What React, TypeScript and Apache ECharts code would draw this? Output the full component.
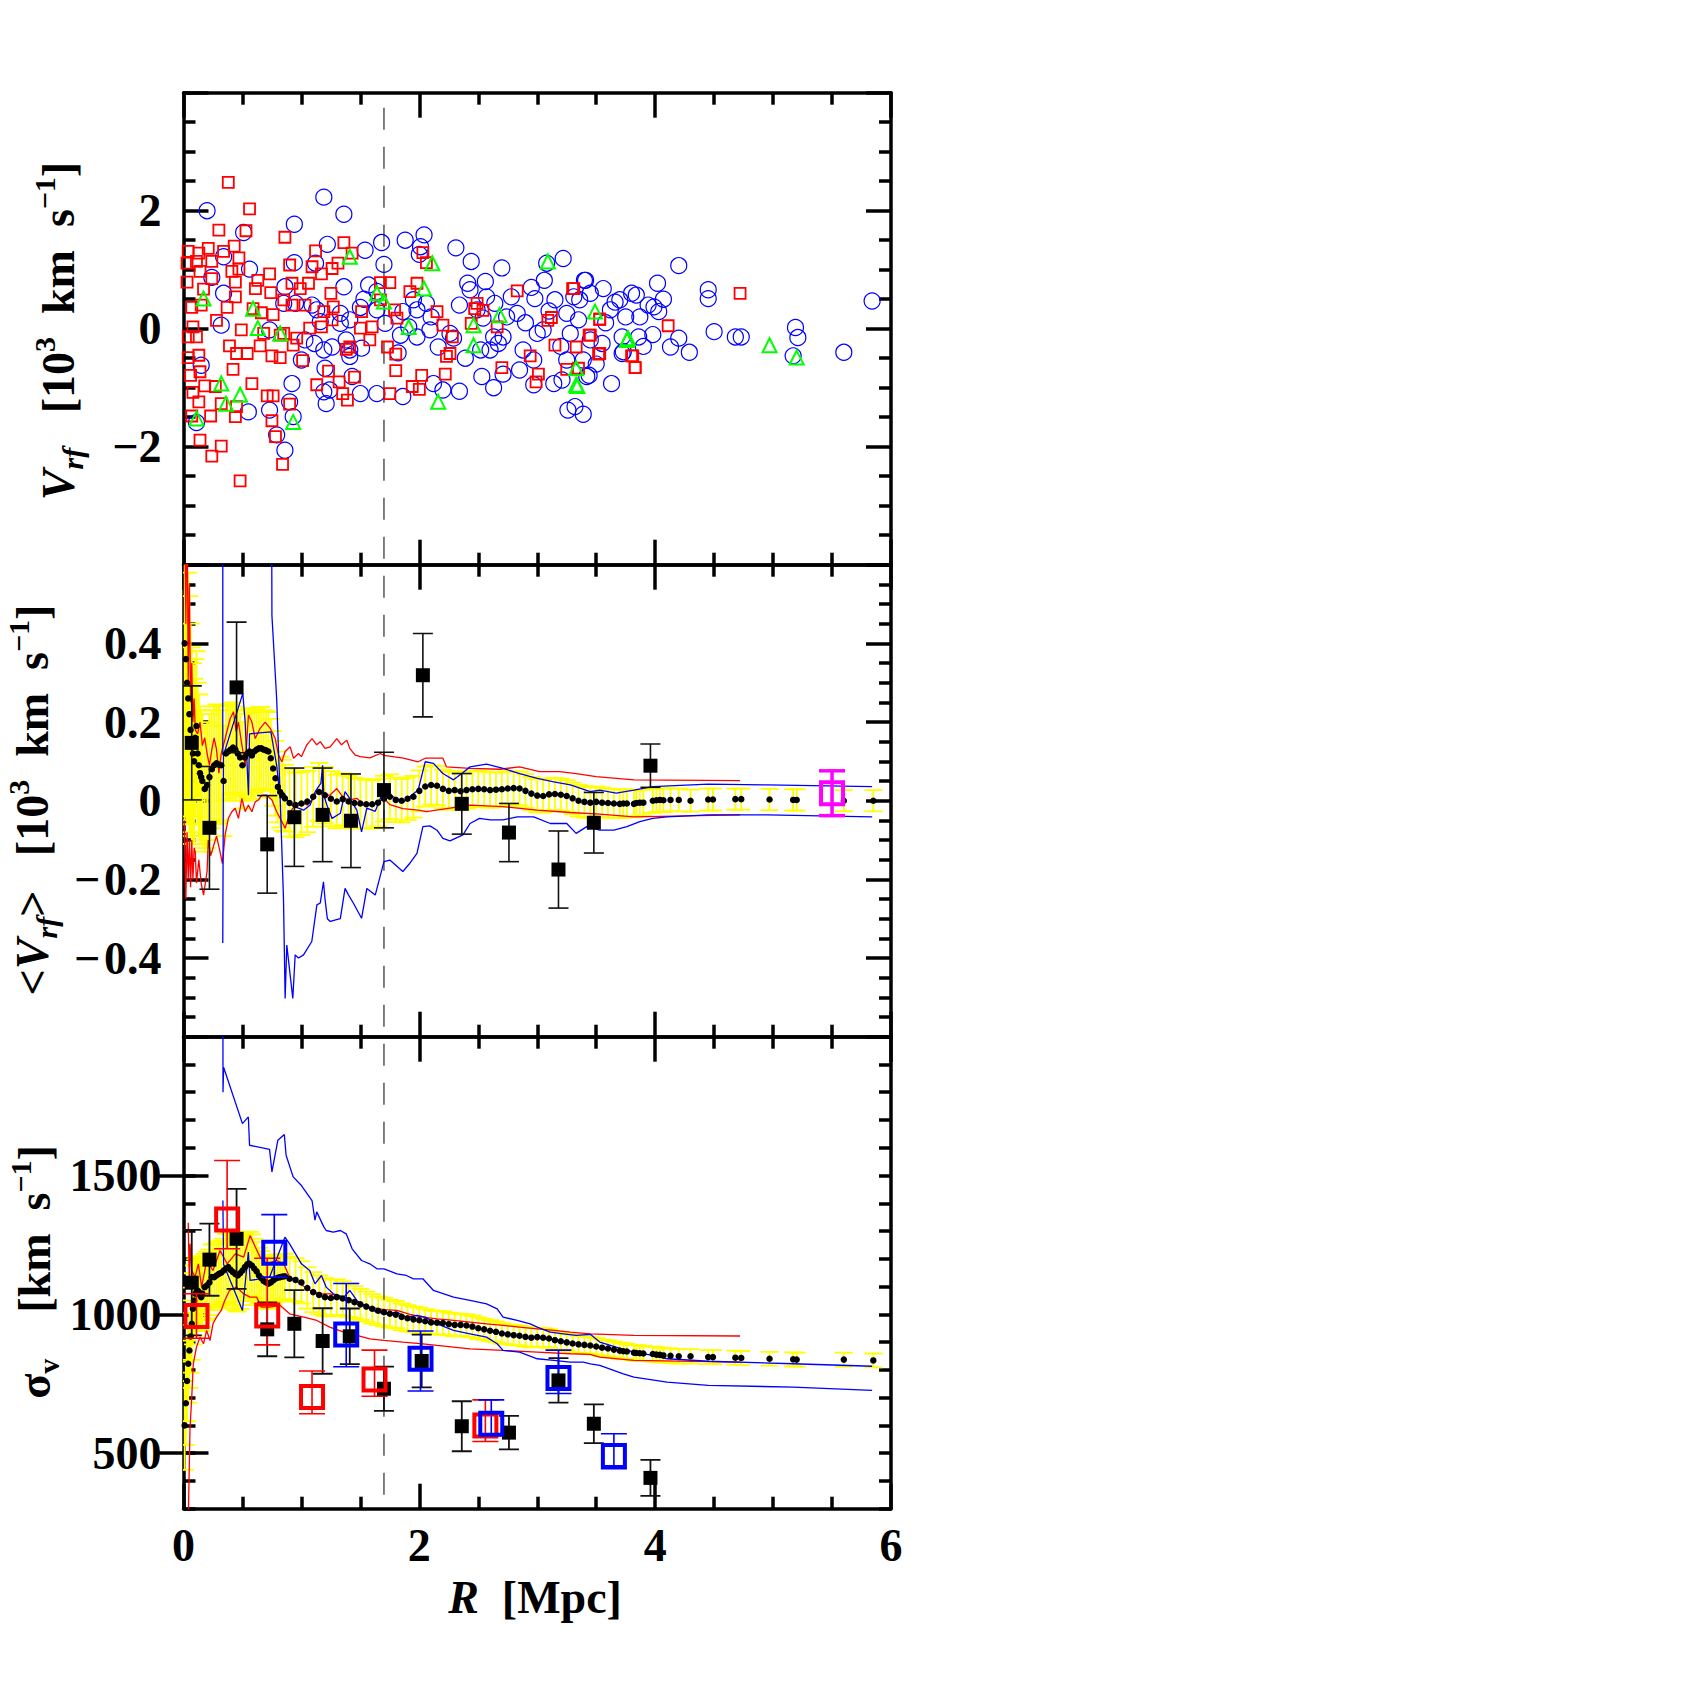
import React, { useEffect, useRef } from 'react';
import * as echarts from 'echarts';

// ---------------- TOP PANEL: individual galaxies (R [Mpc], V_rf [10^3 km/s]) ----------------
const blueCircles: number[][] = [
  [0.20,2.00],[1.19,2.23],[1.36,1.94],[0.94,1.77],[0.51,1.63],[1.22,1.43],[1.54,1.33],[1.68,1.46],[1.88,1.50],[2.04,1.59],
  [2.01,1.39],[2.00,1.26],[2.31,1.37],[2.44,1.14],[2.70,1.03],[3.06,0.82],[3.08,1.11],[3.22,1.19],[1.70,1.09],[0.94,1.12],
  [0.56,1.01],[1.12,1.11],[0.24,0.87],[0.34,1.22],[0.34,0.60],[0.86,0.71],[1.36,0.71],[1.57,0.74],[1.64,0.63],[1.53,0.50],
  [1.50,0.36],[1.09,0.40],[1.13,0.32],[1.16,0.12],[1.33,0.26],[1.41,0.15],[1.71,0.09],[1.86,0.29],[1.95,0.49],[1.98,0.32],
  [2.06,0.43],[2.10,0.20],[1.84,-0.11],[1.98,-0.14],[2.09,-0.02],[2.16,-0.31],[2.26,-0.08],[2.29,-0.16],[2.34,0.40],[2.41,0.77],
  [2.43,0.66],[2.56,0.80],[2.57,0.54],[2.64,0.43],[2.49,0.32],[2.54,0.18],[2.63,-0.14],[2.67,-0.25],[2.71,-0.14],[2.60,-0.36],
  [2.52,-0.36],[2.39,-0.50],[2.53,-0.81],[2.63,-1.00],[2.71,-0.77],[2.78,0.54],[2.74,0.20],[2.83,0.26],[2.88,-0.36],[2.97,-0.53],
  [3.00,-0.08],[3.05,-0.02],[2.98,0.51],[3.15,0.49],[3.25,0.26],[3.28,-0.08],[3.25,-0.53],[3.39,-0.53],[3.42,-0.81],[3.45,-0.19],
  [3.36,0.49],[3.40,0.82],[3.31,0.54],[3.45,0.60],[3.56,0.68],[2.97,-0.95],[3.14,-0.93],[3.21,-0.87],[3.26,-1.38],[3.32,-1.32],
  [3.39,-1.45],[3.63,-0.93],[3.55,-0.25],[3.62,0.32],[3.70,0.49],[3.75,0.20],[3.72,-0.14],[3.73,-0.39],[3.84,0.57],[3.87,0.20],
  [3.86,-0.14],[3.94,0.40],[0.32,0.06],[0.15,-0.62],[0.11,-1.59],[0.55,-1.41],[0.73,-1.38],[0.79,-1.80],[0.86,-2.06],[0.92,-0.93],
  [0.93,-1.49],[0.90,-1.24],[1.00,-0.53],[1.03,-0.19],[1.11,-0.25],[1.19,-0.36],[1.20,-0.67],[1.21,-1.27],[1.24,-1.04],[1.19,-1.07],
  [1.41,-0.36],[1.41,-0.47],[1.51,-0.33],[1.43,-0.81],[1.50,-1.10],[1.64,-1.10],[1.86,-1.15],[2.12,-0.93],[2.20,-1.04],[2.34,-1.06],
  [1.82,-0.41],[1.91,0.03],[1.64,0.32],[1.38,-0.19],[1.33,0.09],[0.73,-0.02],[0.85,0.43],[0.95,0.43],[1.26,-0.31],[4.20,1.07],
  [4.02,0.77],[4.07,0.50],[4.03,0.29],[3.99,0.37],[4.20,-0.16],[4.13,-0.31],[4.29,-0.40],[4.45,0.66],[4.45,0.51],[4.50,-0.05],
  [4.68,-0.14],[4.73,-0.14],[5.19,0.02],[5.21,-0.15],[5.17,-0.46],[5.60,-0.40],[5.84,0.47],[3.41,0.82],[3.72,-0.42],[3.44,-0.79],
  [3.80,0.60],[3.66,0.45],[3.98,-0.10],[3.90,-0.30],[3.58,0.10],[3.50,-0.60],[2.90,0.10],[2.85,-0.70],[2.95,0.70],[3.10,0.30],
  [3.20,-0.30],[3.35,0.15],
];

const redSquares: number[][] = [
  [0.38,2.48],[0.56,2.03],[0.30,1.67],[0.53,1.66],[0.86,1.55],[0.43,1.40],[0.21,1.36],[0.04,1.31],[0.13,1.28],[0.34,1.31],
  [0.47,1.20],[0.11,1.14],[0.24,1.14],[0.03,1.11],[0.14,0.97],[0.41,0.97],[0.47,1.01],[0.24,0.85],[0.44,0.79],[0.03,0.79],
  [0.17,0.67],[0.44,0.54],[0.07,0.36],[0.15,0.40],[0.37,0.36],[0.59,0.34],[0.66,0.27],[0.76,0.24],[0.28,0.14],[0.49,-0.02],
  [0.08,0.03],[0.11,-0.14],[0.04,-0.14],[0.39,-0.29],[0.45,-0.42],[0.54,-0.42],[0.65,-0.29],[0.75,-0.46],[0.82,-0.49],[0.13,-0.45],
  [0.04,-0.49],[0.06,-0.79],[0.14,-0.73],[0.42,-0.69],[0.58,-0.93],[0.27,-0.98],[0.18,-0.97],[0.08,-1.08],[0.71,-1.14],[0.76,-1.14],
  [0.13,-1.24],[0.32,-1.27],[0.45,-1.32],[0.07,-1.48],[0.23,-1.48],[0.44,-1.49],[0.75,-1.56],[0.78,-1.83],[0.14,-1.89],[0.32,-1.99],
  [0.24,-2.16],[0.84,-2.30],[0.48,-2.58],[0.90,-1.28],[0.85,-0.08],[0.85,0.49],[0.90,1.08],[0.92,0.77],[0.99,0.68],[1.06,0.77],
  [0.92,0.40],[1.03,0.40],[1.07,0.01],[0.93,-0.28],[0.96,-0.16],[1.01,-0.54],[1.12,1.32],[1.09,1.05],[1.17,0.93],[1.26,1.02],
  [1.31,1.11],[1.36,1.46],[1.43,1.28],[1.25,0.60],[1.27,0.37],[1.19,0.29],[1.26,0.15],[1.17,0.03],[1.23,-0.72],[1.13,-0.95],
  [1.32,-0.90],[1.35,-1.10],[1.39,-1.21],[1.45,-0.82],[1.41,-0.31],[1.50,0.01],[1.51,0.29],[1.58,-0.19],[1.67,0.78],[1.75,0.78],
  [1.67,0.49],[1.73,-0.31],[1.79,0.32],[1.81,0.18],[1.80,-0.43],[1.80,-0.71],[1.75,-1.10],[1.94,-0.98],[2.00,-1.03],[2.02,-0.79],
  [1.92,0.63],[1.98,0.77],[2.03,1.29],[2.06,1.12],[2.15,0.29],[2.20,0.06],[2.22,-0.77],[2.23,-0.47],[2.26,-0.42],[2.28,-0.14],
  [2.44,0.09],[2.47,0.34],[2.66,0.03],[2.70,-0.66],[2.83,0.64],[2.94,-0.46],[3.01,-0.77],[2.99,-0.90],[3.12,0.19],[3.09,0.14],
  [3.15,-0.28],[3.31,0.68],[3.33,-0.31],[3.25,-0.69],[3.35,-0.67],[3.45,-0.11],[3.53,0.16],[3.52,-0.43],[3.83,-0.66],[3.80,-0.46],
  [2.54,0.31],[2.49,0.43],[1.60,0.03],[1.38,-0.35],[0.74,0.61],[0.63,0.82],[0.73,0.93],[0.61,0.68],[0.68,-0.08],[0.82,-0.11],
  [4.72,0.60],[4.11,0.05],[3.81,-0.46],[3.83,-0.66],[3.53,0.16],[3.53,-0.42],[3.44,-0.11],[3.30,0.68],
];

const greenTriangles: number[][] = [
  [1.41,1.22],[2.11,1.11],[2.04,0.68],[1.64,0.60],[1.70,0.46],[0.59,0.34],[0.63,0.01],[0.82,-0.08],[0.17,0.51],[0.32,-0.93],
  [0.48,-1.12],[0.36,-1.27],[0.11,-1.52],[0.93,-1.58],[1.91,0.03],[2.46,0.06],[2.46,-0.28],[2.16,-1.24],[2.68,0.23],[3.09,1.14],
  [3.49,0.29],[3.33,-0.95],[3.33,-0.67],[3.77,-0.16],[4.97,-0.28],[5.20,-0.49],[3.76,-0.19],[3.34,-0.97],
];

// ---------------- RUNNING STATISTICS (shared radii) ----------------
const runR: number[] = [
  0.01,0.02,0.03,0.04,0.05,0.06,0.07,0.08,0.09,0.10,0.11,0.12,0.13,0.14,0.15,0.16,0.18,0.20,0.22,0.24,0.26,0.28,0.30,0.32,0.34,
  0.36,0.38,0.40,0.42,0.44,0.46,0.48,0.50,0.52,0.54,0.56,0.58,0.60,0.62,0.64,0.66,0.68,0.70,0.72,0.74,0.76,0.78,0.80,0.82,0.84,0.86,
  0.90,0.95,1.00,1.05,1.10,1.15,1.20,1.25,1.30,1.35,1.40,1.45,1.50,1.55,1.60,1.65,1.70,1.75,1.80,1.85,1.90,1.95,2.00,2.05,2.10,2.15,
  2.20,2.25,2.30,2.35,2.40,2.45,2.50,2.55,2.60,2.65,2.70,2.75,2.80,2.85,2.90,2.95,3.00,3.05,3.10,3.15,3.20,3.25,3.30,3.35,3.40,3.45,3.50,
  3.55,3.60,3.65,3.70,3.73,3.76,3.82,3.84,3.87,3.90,3.98,4.01,4.04,4.07,4.13,4.20,4.30,4.45,4.49,4.68,4.73,4.97,5.17,5.20,5.60,5.85,
];
const runMeanV: number[] = [
  0.40,0.36,0.30,0.26,0.22,0.18,0.14,0.12,0.10,0.16,0.19,0.12,0.09,0.07,0.06,0.05,0.03,0.04,0.06,0.08,0.09,0.095,0.092,0.09,0.05,
  0.12,0.125,0.13,0.135,0.13,0.12,0.11,0.09,0.11,0.12,0.125,0.115,0.125,0.13,0.133,0.133,0.13,0.128,0.125,0.108,0.082,0.057,0.035,0.022,0.014,0.006,
  -0.006,-0.011,-0.007,-0.002,0.010,0.022,0.014,0.005,-0.002,0.004,-0.002,-0.006,-0.007,-0.009,-0.009,-0.005,0.005,0.010,0.002,0.000,0.005,0.010,0.025,0.036,0.040,0.038,
  0.030,0.025,0.027,0.024,0.027,0.029,0.030,0.029,0.027,0.028,0.029,0.031,0.032,0.031,0.025,0.018,0.013,0.012,0.016,0.017,0.015,0.012,0.006,0.000,-0.003,-0.005,-0.003,
  -0.005,-0.006,-0.007,-0.008,-0.007,-0.007,-0.008,-0.006,-0.005,-0.005,0.000,0.001,0.002,0.001,0.002,0.002,0.000,0.003,0.003,0.004,0.004,0.003,0.002,0.002,0.000,0.000,
];
const runMeanErr: number[] = [
  0.45,0.40,0.36,0.32,0.30,0.27,0.25,0.23,0.21,0.20,0.19,0.18,0.18,0.17,0.17,0.17,0.16,0.16,0.16,0.15,0.15,0.15,0.15,0.14,0.14,
  0.12,0.12,0.115,0.115,0.11,0.11,0.11,0.11,0.11,0.11,0.11,0.11,0.105,0.105,0.105,0.105,0.10,0.10,0.10,0.10,0.095,0.095,0.09,0.09,0.09,0.085,
  0.085,0.082,0.080,0.078,0.076,0.074,0.072,0.070,0.068,0.066,0.065,0.064,0.063,0.062,0.061,0.060,0.058,0.057,0.056,0.055,0.054,0.053,0.052,0.051,0.050,0.050,
  0.049,0.048,0.048,0.047,0.047,0.046,0.046,0.045,0.045,0.044,0.044,0.044,0.043,0.043,0.043,0.042,0.042,0.042,0.041,0.041,0.041,0.040,0.040,0.040,0.040,0.039,0.039,
  0.038,0.037,0.037,0.036,0.036,0.035,0.034,0.034,0.033,0.033,0.031,0.030,0.030,0.030,0.029,0.029,0.028,0.028,0.028,0.027,0.027,0.027,0.027,0.027,0.027,0.027,
];
const runSigma: number[] = [
  600,680,760,822,870,920,966,1020,1050,1074,1080,1086,1080,1070,1062,1075,1098,1105,1115,1134,1134,1140,1146,1150,1158,
  1165,1170,1160,1152,1145,1140,1148,1158,1170,1180,1182,1176,1165,1155,1140,1130,1120,1115,1110,1115,1122,1128,1132,1134,1136,1137,
  1128,1124,1115,1095,1080,1070,1062,1059,1062,1057,1051,1044,1036,1028,1020,1013,1008,1002,999,991,986,982,979,975,971,970,
  969,965,962,962,960,956,950,946,941,937,931,928,925,923,919,916,918,916,913,907,903,899,895,892,890,888,884,
  880,877,873,869,867,866,862,861,860,859,857,855,854,852,851,849,849,846,846,844,843,840,838,837,837,834,
];
const runSigmaErr: number[] = [
  160,150,145,140,135,130,130,128,126,125,125,124,124,122,122,120,120,120,118,118,118,116,116,115,115,
  125,125,128,130,130,130,128,125,122,118,115,112,108,105,100,98,95,92,90,88,86,85,84,83,82,82,
  80,78,76,74,72,70,68,66,64,62,60,58,56,54,53,52,51,50,49,48,47,46,45,44,43,42,
  42,41,41,40,40,39,39,38,38,37,37,36,36,36,35,35,34,34,34,33,33,32,32,31,31,30,30,
  30,29,29,29,28,28,28,28,27,27,27,27,26,26,26,26,26,25,25,25,25,25,25,25,25,25,
];

// ---------------- MIDDLE PANEL curves & binned points ----------------
const midRedUp: number[][] = [
  [0.005,0.9],[0.02,0.45],[0.03,0.8],[0.04,0.3],[0.05,0.55],[0.06,0.25],[0.07,0.35],[0.08,0.2],[0.09,0.26],[0.10,0.18],
  [0.12,0.17],[0.14,0.2],[0.16,0.14],[0.18,0.16],[0.20,0.12],[0.22,0.09],[0.24,0.13],[0.26,0.16],[0.28,0.13],[0.30,0.07],
  [0.32,0.12],[0.353,0.158],[0.396,0.209],[0.424,0.226],[0.447,0.175],[0.466,0.2],[0.495,0.142],[0.523,0.09],[0.551,0.218],[0.58,0.2],
  [0.608,0.158],[0.65,0.184],[0.693,0.2],[0.735,0.184],[0.778,0.158],[0.806,0.116],[0.834,0.099],[0.862,0.125],[0.905,0.137],[0.933,0.108],
  [0.975,0.12],[1.0,0.112],[1.046,0.142],[1.09,0.158],[1.13,0.142],[1.16,0.15],[1.2,0.133],[1.244,0.137],[1.3,0.158],[1.34,0.142],
  [1.385,0.154],[1.41,0.133],[1.456,0.116],[1.5,0.112],[1.58,0.109],[1.67,0.12],[1.70,0.115],[1.865,0.108],[1.99,0.099],[2.05,0.108],
  [2.20,0.108],[2.23,0.086],[2.43,0.082],[2.684,0.08],[2.85,0.086],[3.02,0.074],[3.19,0.074],[3.33,0.069],[3.50,0.061],[3.82,0.053],[4.72,0.051],
];
const midRedLo: number[][] = [
  [0.005,-0.05],[0.02,-0.25],[0.03,-0.08],[0.04,-0.2],[0.05,-0.1],[0.06,-0.22],[0.07,-0.1],[0.08,-0.2],[0.09,-0.12],[0.10,-0.13],
  [0.11,-0.21],[0.13,-0.15],[0.15,-0.21],[0.17,-0.24],[0.20,-0.18],[0.21,-0.10],[0.23,-0.14],[0.25,-0.12],[0.28,-0.09],[0.31,-0.13],
  [0.33,-0.16],[0.353,-0.087],[0.38,-0.045],[0.41,-0.028],[0.438,-0.019],[0.466,-0.045],[0.495,0.006],[0.523,-0.028],[0.55,-0.011],[0.58,-0.028],
  [0.608,-0.003],[0.636,0.002],[0.664,0.014],[0.707,0.014],[0.75,0.002],[0.79,-0.028],[0.834,-0.053],[0.862,-0.07],[0.905,-0.028],[0.95,-0.011],
  [0.99,-0.003],[1.05,-0.011],[1.10,0.006],[1.13,0.023],[1.19,0.014],[1.24,0.014],[1.30,0.031],[1.36,0.006],[1.41,0.002],[1.47,0.006],
  [1.53,-0.011],[1.61,-0.011],[1.70,0.006],[1.75,-0.01],[1.86,-0.02],[1.99,-0.024],[2.06,-0.028],[2.43,-0.011],[2.71,-0.015],[3.0,-0.024],
  [3.28,-0.03],[3.53,-0.034],[3.82,-0.041],[4.72,-0.036],
];
const midBlueUp: number[][] = [
  [0.333,0.116],[0.334,1.5],[0.74,1.5],[0.75,0.47],[0.79,0.26],[0.82,0.006],[0.85,0.014],[0.905,-0.007],[0.933,-0.015],[0.975,-0.019],
  [1.018,-0.024],[1.074,-0.011],[1.117,0.023],[1.145,0.036],[1.165,0.044],[1.18,0.09],[1.19,0.014],[1.216,-0.011],[1.26,-0.045],[1.33,-0.032],
  [1.37,0.023],[1.41,0.006],[1.47,-0.024],[1.51,-0.079],[1.555,-0.019],[1.626,-0.027],[1.67,0.006],[1.70,0.04],[1.72,0.019],[1.865,-0.003],
  [1.99,0.027],[2.05,0.099],[2.12,0.095],[2.20,0.069],[2.29,0.053],[2.36,0.069],[2.43,0.086],[2.57,0.093],[2.71,0.082],[2.85,0.069],
  [3.00,0.057],[3.14,0.048],[3.28,0.040],[3.45,0.023],[3.53,0.027],[3.67,0.019],[3.82,0.027],[3.98,0.036],[4.45,0.042],[4.95,0.040],[5.84,0.036],
];
const midBlueLo: number[][] = [
  [0.333,-0.362],[0.339,0.116],[0.503,0.273],[0.523,0.2],[0.551,0.014],[0.56,0.17],[0.741,0.175],[0.79,0.09],[0.82,0.006],[0.848,-0.25],
  [0.862,-0.503],[0.876,-0.367],[0.927,-0.503],[0.947,-0.392],[0.975,-0.4],[1.018,-0.392],[1.088,-0.358],[1.131,-0.265],[1.16,-0.26],[1.187,-0.206],
  [1.2,-0.25],[1.22,-0.3],[1.244,-0.307],[1.33,-0.3],[1.37,-0.223],[1.4,-0.24],[1.44,-0.26],[1.51,-0.299],[1.555,-0.223],[1.626,-0.24],
  [1.70,-0.155],[1.75,-0.151],[1.86,-0.18],[1.92,-0.159],[1.98,-0.134],[2.03,-0.066],[2.09,-0.064],[2.15,-0.075],[2.20,-0.096],[2.26,-0.102],
  [2.37,-0.087],[2.43,-0.058],[2.51,-0.045],[2.60,-0.049],[2.71,-0.049],[2.83,-0.041],[2.97,-0.041],[3.11,-0.058],[3.25,-0.058],[3.33,-0.083],
  [3.42,-0.066],[3.53,-0.075],[3.65,-0.075],[3.76,-0.066],[3.87,-0.053],[3.98,-0.045],[4.10,-0.041],[4.45,-0.036],[4.95,-0.036],[5.84,-0.041],
];
// binned means: [R, <V>, error]
const midBins: number[][] = [
  [0.07,0.147,0.145],[0.22,-0.069,0.156],[0.45,0.288,0.166],[0.71,-0.111,0.124],[0.94,-0.042,0.125],[1.18,-0.036,0.119],[1.42,-0.051,0.119],
  [1.70,0.027,0.096],[2.03,0.319,0.106],[2.36,-0.008,0.077],[2.76,-0.081,0.074],[3.18,-0.175,0.098],[3.48,-0.056,0.077],[3.96,0.089,0.055],
];
const midMagenta: number[][] = [[5.50,0.019,0.057]];

// ---------------- BOTTOM PANEL curves & binned points ----------------
const botRedUp: number[][] = [
  [0.04,1330],[0.05,1100],[0.055,1254],[0.07,1158],[0.098,1134],[0.126,1182],[0.154,1098],[0.196,1194],[0.25,1158],[0.31,1230],
  [0.37,1182],[0.44,1218],[0.51,1206],[0.565,1284],[0.61,1242],[0.65,1206],[0.705,1182],[0.79,1194],[0.85,1182],[0.90,1134],
  [0.99,1110],[1.07,1086],[1.16,1074],[1.24,1074],[1.36,1062],[1.47,1044],[1.58,1026],[1.70,1017],[1.81,1014],[1.92,1000],
  [2.03,990],[2.15,984],[2.29,978],[2.43,972],[2.57,966],[2.71,960],[2.85,954],[3.00,948],[3.14,942],[3.28,936],[3.45,930],[3.82,924],[4.72,922],
];
const botRedLo: number[][] = [
  [0.04,250],[0.055,586],[0.07,702],[0.083,822],[0.11,882],[0.14,918],[0.17,894],[0.196,942],[0.225,906],[0.25,966],
  [0.28,990],[0.32,1014],[0.35,1050],[0.39,1086],[0.45,1098],[0.51,1074],[0.565,1062],[0.62,1062],[0.66,1026],[0.73,1026],
  [0.82,1032],[0.90,1002],[1.02,990],[1.13,978],[1.24,954],[1.36,936],[1.47,924],[1.58,912],[1.70,906],[1.86,900],
  [2.03,894],[2.15,888],[2.29,882],[2.43,876],[2.57,873],[2.71,870],[3.00,864],[3.28,858],[3.45,856],[3.53,846],[3.82,834],[4.72,828],
];
const botBlueUp: number[][] = [
  [0.334,2100],[0.335,1800],[0.34,1890],[0.50,1687],[0.55,1711],[0.56,1609],[0.73,1594],[0.75,1513],[0.80,1627],[0.855,1648],
  [0.87,1573],[0.93,1495],[1.00,1464],[1.09,1410],[1.115,1339],[1.13,1369],[1.19,1315],[1.21,1302],[1.27,1296],[1.33,1302],
  [1.38,1290],[1.43,1236],[1.51,1194],[1.58,1182],[1.64,1164],[1.70,1164],[1.81,1146],[1.89,1140],[1.95,1128],[2.03,1128],
  [2.12,1086],[2.29,1062],[2.43,1050],[2.57,1038],[2.66,1020],[2.71,990],[2.83,978],[2.94,966],[3.00,954],[3.11,936],
  [3.22,930],[3.33,924],[3.45,928],[3.53,900],[3.67,882],[3.82,864],[3.98,852],[4.10,840],[4.45,831],[5.17,822],[5.84,813],
];
const botBlueLo: number[][] = [
  [0.334,1410],[0.34,1180],[0.50,1014],[0.55,1224],[0.565,1122],[0.73,1134],[0.86,1278],[0.90,1254],[1.00,1182],[1.07,1158],
  [1.115,1110],[1.17,1140],[1.21,1098],[1.27,1074],[1.36,1062],[1.41,1086],[1.47,1050],[1.55,1026],[1.64,1008],[1.72,1002],
  [1.81,1008],[1.89,990],[1.98,996],[2.05,990],[2.15,966],[2.29,942],[2.43,930],[2.57,918],[2.66,894],[2.71,870],
  [2.85,864],[3.00,840],[3.14,834],[3.28,828],[3.39,828],[3.45,822],[3.53,816],[3.73,786],[3.82,774],[4.10,756],
  [4.45,744],[5.17,738],[5.84,726],
];
// [R, sigma, err]
const botBlackBins: number[][] = [
  [0.07,1114,190],[0.22,1197,130],[0.45,1272,180],[0.71,946,97],[0.94,966,121],[1.18,904,118],[1.41,921,100],
  [1.70,732,80],[2.02,832,95],[2.36,597,90],[2.76,574,60],[3.18,762,80],[3.48,606,70],[3.96,411,65],
];
// [R, sigma, errLow, errHigh]
const botRedBins: number[][] = [
  [0.11,994,80,80],[0.37,1342,106,212],[0.71,996,106,206],[1.09,702,60,94],[1.62,765,60,106],[2.56,600,58,92],
];
const botBlueBins: number[][] = [
  [0.77,1222,88,137],[1.38,927,116,184],[2.01,840,116,100],[2.61,606,42,86],[3.18,771,56,100],[3.65,490,46,80],
];

// ---------------- tick labels ----------------
const xTickLabels = ['0', '2', '4', '6'];
const topTickLabels = ['−2', '0', '2'];
const botTickLabels = ['500', '1000', '1500'];

const F = 'Liberation Serif';
const GL = 183.5, GW = 707.5, GH = 472;
const TOPS = [92.7, 564.7, 1036.7];

const errRender = (color: string, lw: number, cap: number) => (params: any, api: any) => {
  const x = api.value(0), y = api.value(1), lo = api.value(2), hi = api.value(3);
  const a = api.coord([x, y - lo]);
  const b = api.coord([x, y + hi]);
  const st = { stroke: color, lineWidth: lw, fill: 'none' };
  return {
    type: 'group',
    children: [
      { type: 'line', shape: { x1: a[0], y1: a[1], x2: b[0], y2: b[1] }, style: st },
      { type: 'line', shape: { x1: a[0] - cap / 2, y1: a[1], x2: a[0] + cap / 2, y2: a[1] }, style: st },
      { type: 'line', shape: { x1: b[0] - cap / 2, y1: b[1], x2: b[0] + cap / 2, y2: b[1] }, style: st },
    ],
  };
};

const lineStyleAx = { color: '#000', width: 3.5 };
const labelFont = { fontFamily: F, fontWeight: 'bold' as const, fontSize: 46, color: '#000' };

function makeX(g: number, pos: 'bottom' | 'top') {
  const showLab = g === 2 && pos === 'bottom';
  return {
    type: 'value', gridIndex: g, position: pos, min: 0, max: 6, interval: 2,
    splitLine: { show: false },
    axisLine: { show: true, onZero: false, lineStyle: lineStyleAx },
    axisTick: { show: true, inside: true, length: 25, lineStyle: lineStyleAx },
    minorTick: { show: true, splitNumber: 4, length: 12, lineStyle: lineStyleAx },
    axisLabel: showLab
      ? { show: true, margin: 14, ...labelFont, formatter: (v: number) => xTickLabels[Math.round(v / 2)] ?? '' }
      : { show: false },
  };
}

function makeY(g: number, pos: 'left' | 'right', min: number, max: number, interval: number, split: number, fmt: ((v: number) => string) | null) {
  return {
    type: 'value', gridIndex: g, position: pos, min, max, interval,
    splitLine: { show: false },
    axisLine: { show: true, onZero: false, lineStyle: lineStyleAx },
    axisTick: { show: true, inside: true, length: split > 1 ? 25 : 12, lineStyle: lineStyleAx },
    minorTick: { show: split > 1, splitNumber: split, length: 12, lineStyle: lineStyleAx },
    axisLabel: fmt ? { show: true, margin: 22, ...labelFont, formatter: fmt } : { show: false },
  };
}

const topFmt = (v: number) => {
  const r = Math.round(v);
  return r === -2 ? topTickLabels[0] : r === 0 ? topTickLabels[1] : r === 2 ? topTickLabels[2] : '';
};
const midFmt = (v: number) => {
  if (Math.abs(v) > 0.55) return '';
  if (Math.abs(v) < 1e-9) return '0';
  const s = Math.abs(v).toFixed(1);
  return v < 0 ? '−\u200A' + s : s;
};
const botFmt = (v: number) => {
  const r = Math.round(v);
  const idx = [500, 1000, 1500].indexOf(r);
  return idx >= 0 ? botTickLabels[idx] : '';
};

function curve(data: number[][], color: string, xi: number, yi: number) {
  return {
    type: 'line', xAxisIndex: xi, yAxisIndex: yi, data, symbol: 'none', showSymbol: false, silent: true, clip: true,
    lineStyle: { color, width: 1.3 }, z: 3,
  };
}
function dashed(xi: number, yi: number, y0: number, y1: number, off: number) {
  return {
    type: 'line', xAxisIndex: xi, yAxisIndex: yi, data: [[1.7, y0], [1.7, y1]], symbol: 'none', silent: true,
    lineStyle: { color: '#555', width: 1.5, type: [22, 17], dashOffset: off }, z: 2,
  };
}
function errSeries(data: number[][], color: string, lw: number, cap: number, xi: number, yi: number, z: number) {
  return {
    type: 'custom', xAxisIndex: xi, yAxisIndex: yi, data, clip: true, silent: true,
    encode: { x: 0, y: 1 }, renderItem: errRender(color, lw, cap), z,
  };
}
function scatter(data: number[][], symbol: string, size: number, fill: string, border: string, bw: number, xi: number, yi: number, z: number) {
  return {
    type: 'scatter', xAxisIndex: xi, yAxisIndex: yi, data: data.map((d) => [d[0], d[1]]), symbol, symbolSize: size, silent: true, clip: true,
    itemStyle: { color: fill, borderColor: border, borderWidth: bw, opacity: 1 }, z,
  };
}

const T = 'rgba(0,0,0,0)';

export default function App() {
  const ref = useRef<HTMLDivElement>(null);
  useEffect(() => {
    const chart = echarts.init(ref.current!, null, { renderer: 'svg', width: 1689, height: 1689 });

    const yellowMid = runR.map((r, i) => [r, runMeanV[i], runMeanErr[i], runMeanErr[i]]);
    const yellowBot = runR.map((r, i) => [r, runSigma[i], runSigmaErr[i], runSigmaErr[i]]);
    const meanPts = runR.map((r, i) => [r, runMeanV[i]]);
    const sigPts = runR.map((r, i) => [r, runSigma[i]]);
    const midBinErr = midBins.map((d) => [d[0], d[1], d[2], d[2]]);
    const magErr = midMagenta.map((d) => [d[0], d[1], d[2], d[2]]);
    const botBlackErr = botBlackBins.map((d) => [d[0], d[1], d[2], d[2]]);

    const base = { fontFamily: F, fontWeight: 'bold', fill: '#000', color: '#000' };
    const rich = {
      n: { ...base, fontSize: 46, lineHeight: 58 },
      i: { ...base, fontStyle: 'italic', fontSize: 46, lineHeight: 58 },
      s: { ...base, fontStyle: 'italic', fontSize: 30, lineHeight: 30, verticalAlign: 'bottom' },
      u: { ...base, fontSize: 30, lineHeight: 30, verticalAlign: 'bottom' },
      p: { ...base, fontSize: 30, lineHeight: 30, verticalAlign: 'top' },
    };
    const txt = (text: string, x: number, y: number, rot: number) => ({
      type: 'text', x, y, rotation: rot, silent: true,
      style: {
        text, rich, fill: '#000', font: `bold 46px "${F}"`,
        textAlign: 'center', textVerticalAlign: 'middle', align: 'center', verticalAlign: 'middle',
      },
    });

    const option: any = {
      animation: false,
      backgroundColor: '#fff',
      grid: TOPS.map((t) => ({ left: GL, top: t, width: GW, height: GH, containLabel: false })),
      xAxis: [makeX(0, 'bottom'), makeX(0, 'top'), makeX(1, 'bottom'), makeX(1, 'top'), makeX(2, 'bottom'), makeX(2, 'top')],
      yAxis: [
        makeY(0, 'left', -4, 4, 2, 4, topFmt), makeY(0, 'right', -4, 4, 2, 4, null),
        makeY(1, 'left', -0.6, 0.6, 0.2, 4, midFmt), makeY(1, 'right', -0.6, 0.6, 0.2, 4, null),
        makeY(2, 'left', 300, 2000, 100, 1, botFmt), makeY(2, 'right', 300, 2000, 100, 1, null),
        {
          type: 'value', gridIndex: 2, position: 'left', min: 300, max: 2000, interval: 100,
          splitLine: { show: false }, axisLine: { show: false }, axisLabel: { show: false },
          axisTick: { show: true, inside: true, length: 25, lineStyle: lineStyleAx, customValues: [500, 1000, 1500] },
        },
        {
          type: 'value', gridIndex: 2, position: 'right', min: 300, max: 2000, interval: 100,
          splitLine: { show: false }, axisLine: { show: false }, axisLabel: { show: false },
          axisTick: { show: true, inside: true, length: 25, lineStyle: lineStyleAx, customValues: [500, 1000, 1500] },
        },
      ],
      graphic: [
        txt('{i|V}{s|rf}{n|   [10}{p|3}{n|  km  s}{p|−1}{n|]}', 58, 331, Math.PI / 2),
        txt('{n|<}{i|V}{s|rf}{n|>   [10}{p|3}{n|  km  s}{p|−1}{n|]}', 32, 800, Math.PI / 2),
        txt('{n|σ}{u|v}{n|    [km  s}{p|−1}{n|]}', 34, 1272, Math.PI / 2),
        txt('{i|R}{n|  [Mpc]}', 535, 1597, 0),
      ],
      series: [
        // top panel
        dashed(0, 0, 4, -4, 24),
        scatter(blueCircles, 'circle', 16, T, '#0000ff', 1.2, 0, 0, 4),
        scatter(redSquares, 'rect', 11, T, '#ff0000', 1.8, 0, 0, 5),
        scatter(greenTriangles, 'triangle', 14, T, '#00ff00', 2, 0, 0, 6),
        // middle panel
        errSeries(yellowMid, '#ffff00', 1.8, 18, 2, 2, 2),
        dashed(2, 2, 0.6, -0.6, 28),
        curve(midRedUp, '#ff0000', 2, 2),
        curve(midRedLo, '#ff0000', 2, 2),
        curve(midBlueUp, '#0000ff', 2, 2),
        curve(midBlueLo, '#0000ff', 2, 2),
        scatter(meanPts, 'circle', 6.5, '#000', '#000', 0, 2, 2, 4),
        errSeries(midBinErr, '#111', 1.6, 20, 2, 2, 5),
        scatter(midBins, 'rect', 14, '#000', '#000', 0, 2, 2, 6),
        errSeries(magErr, '#ff00ff', 3.5, 26, 2, 2, 6),
        scatter(midMagenta, 'rect', 22, T, '#ff00ff', 4, 2, 2, 7),
        // bottom panel
        errSeries(yellowBot, '#ffff00', 1.8, 18, 4, 4, 2),
        dashed(4, 4, 2000, 300, 32),
        curve(botRedUp, '#ff0000', 4, 4),
        curve(botRedLo, '#ff0000', 4, 4),
        curve(botBlueUp, '#0000ff', 4, 4),
        curve(botBlueLo, '#0000ff', 4, 4),
        scatter(sigPts, 'circle', 6.5, '#000', '#000', 0, 4, 4, 4),
        errSeries(botBlackErr, '#111', 1.8, 20, 4, 4, 5),
        scatter(botBlackBins, 'rect', 14, '#000', '#000', 0, 4, 4, 6),
        errSeries(botRedBins, '#ff0000', 1.6, 26, 4, 4, 6),
        scatter(botRedBins, 'rect', 22, T, '#ff0000', 4, 4, 4, 7),
        errSeries(botBlueBins, '#0000ff', 1.6, 26, 4, 4, 6),
        scatter(botBlueBins, 'rect', 22, T, '#0000ff', 4, 4, 4, 7),
      ],
    };
    chart.setOption(option);
    return () => chart.dispose();
  }, []);
  return (
    <div
      ref={ref}
      style={{ position: 'absolute', left: 0, top: 0, width: 1689, height: 1689, background: '#fff' }}
    />
  );
}
